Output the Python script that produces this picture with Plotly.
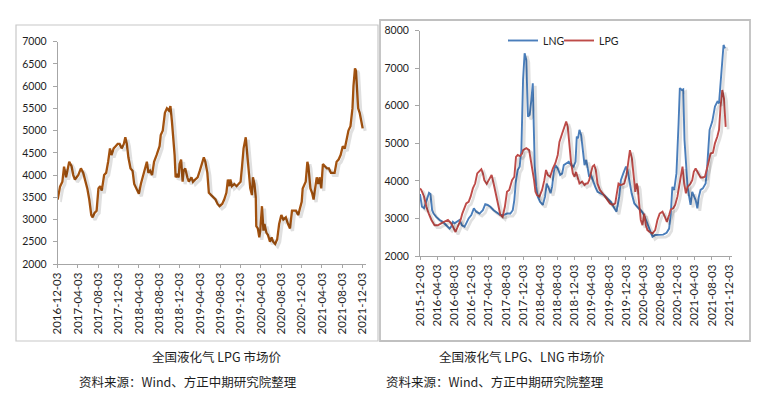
import plotly.graph_objects as go

W, H = 759, 409

# ---------------- data: left chart (全国液化气 LPG 市场价) ----------------
left_dates = [
    "2016-12-03","2016-12-17","2016-12-31","2017-01-10","2017-01-22","2017-02-10","2017-02-24","2017-03-06",
    "2017-03-16","2017-04-05","2017-04-21","2017-05-05","2017-05-15","2017-05-29","2017-06-10","2017-06-22",
    "2017-06-30","2017-07-12","2017-07-24","2017-08-04","2017-08-14","2017-08-24","2017-09-07","2017-09-19",
    "2017-10-01","2017-10-12","2017-10-21","2017-11-03","2017-11-15","2017-11-27","2017-12-09","2017-12-21",
    "2018-01-03","2018-01-12","2018-01-21","2018-01-30","2018-02-12","2018-02-24","2018-03-06","2018-03-21",
    "2018-04-03","2018-04-15","2018-04-27","2018-05-09","2018-05-21","2018-05-30","2018-06-09","2018-06-21",
    "2018-07-03","2018-07-18","2018-08-05","2018-08-12","2018-08-24","2018-09-06","2018-09-18","2018-09-30",
    "2018-10-09","2018-10-18","2018-10-27","2018-11-03","2018-11-09","2018-11-18","2018-11-27","2018-12-03",
    "2018-12-12","2018-12-21","2018-12-27","2019-01-06","2019-01-18","2019-01-27","2019-02-12","2019-02-21",
    "2019-03-06","2019-03-21","2019-04-03","2019-04-15","2019-04-27","2019-05-06","2019-05-18","2019-05-27",
    "2019-06-09","2019-06-21","2019-07-06","2019-07-18","2019-07-30","2019-08-15","2019-08-27","2019-09-09",
    "2019-09-18","2019-09-27","2019-10-03","2019-10-12","2019-10-27","2019-11-09","2019-11-21","2019-12-03",
    "2019-12-12","2019-12-21","2020-01-03","2020-01-12","2020-01-21","2020-01-30","2020-02-09","2020-02-15",
    "2020-02-24","2020-03-03","2020-03-06","2020-03-15","2020-03-24","2020-03-30","2020-04-09","2020-04-18",
    "2020-04-24","2020-05-06","2020-05-15","2020-05-27","2020-06-06","2020-06-15","2020-06-27","2020-07-09",
    "2020-07-21","2020-08-03","2020-08-15","2020-08-30","2020-09-12","2020-09-24","2020-10-06","2020-10-18",
    "2020-10-30","2020-11-12","2020-11-21","2020-12-03","2020-12-09","2020-12-18","2020-12-27","2021-01-06",
    "2021-01-12","2021-01-24","2021-02-03","2021-02-12","2021-02-24","2021-03-03","2021-03-12","2021-03-21",
    "2021-03-30","2021-04-09","2021-04-21","2021-05-03","2021-05-15","2021-05-27","2021-06-06","2021-06-18",
    "2021-06-30","2021-07-12","2021-07-24","2021-08-06","2021-08-18","2021-08-30","2021-09-09","2021-09-21",
    "2021-10-03","2021-10-09","2021-10-18","2021-10-24","2021-10-30","2021-11-06","2021-11-15","2021-11-24",
    "2021-12-03",
]
left_lpg = [
    3450, 3740, 3850, 4190, 3950, 4300, 4200, 4000,
    3900, 4000, 4150, 4050, 3900, 3700, 3450, 3100,
    3050, 3150, 3200, 3700, 3750, 3650, 4000, 4050,
    4300, 4600, 4450, 4600, 4650, 4700, 4700, 4600,
    4700, 4850, 4700, 4400, 4150, 4100, 3800, 3700,
    3580, 3800, 3950, 4100, 4300, 4050, 4100, 4000,
    4300, 4450, 4650, 4900, 5000, 5400, 5500, 5450,
    5550, 5200, 4800, 4450, 3950, 4000, 3950, 4250,
    4350, 3850, 4100, 4150, 3950, 3850, 3950, 3850,
    3900, 3950, 4100, 4250, 4400, 4300, 4050, 3600,
    3550, 3500, 3450, 3350, 3300, 3350, 3450, 3600,
    3900, 3750, 3900, 3750, 3800, 3750, 3800, 3850,
    4200, 4600, 4850, 4500, 4200, 3700, 3550, 3950,
    3800, 3500, 2850, 2800, 2600, 2750, 3300, 2750,
    2900, 2700, 2650, 2500, 2600, 2500, 2450, 2550,
    2900, 3100, 3000, 3050, 2900, 2800, 3200, 3200,
    3200, 3100, 3250, 3400, 3700, 3800, 3850, 4300,
    4200, 3700, 3600, 3450, 3850, 3950, 3800, 3950,
    3700, 4250, 4200, 4150, 4150, 4050, 4050, 4050,
    4300, 4350, 4450, 4650, 4600, 4800, 5000, 5100,
    5500, 6000, 6400, 6350, 5900, 5500, 5400, 5250,
    5050,
]
left_ticks = [
    "2016-12-03","2017-04-03","2017-08-03","2017-12-03","2018-04-03","2018-08-03",
    "2018-12-03","2019-04-03","2019-08-03","2019-12-03","2020-04-03","2020-08-03",
    "2020-12-03","2021-04-03","2021-08-03","2021-12-03",
]

# ---------------- data: right chart (LNG / LPG) ----------------
lng_dates = [
    "2015-12-03","2015-12-17","2016-01-01","2016-01-17","2016-02-05","2016-02-15","2016-02-27","2016-03-08",
    "2016-03-27","2016-04-20","2016-05-13","2016-06-06","2016-06-30","2016-07-11","2016-07-23","2016-08-04",
    "2016-08-23","2016-09-09","2016-09-25","2016-10-14","2016-10-26","2016-11-12","2016-12-01","2016-12-19",
    "2017-01-05","2017-01-28","2017-02-21","2017-03-10","2017-03-27","2017-04-15","2017-05-08","2017-06-01",
    "2017-06-25","2017-07-18","2017-08-11","2017-09-04","2017-09-21","2017-10-02","2017-10-14","2017-10-26",
    "2017-11-09","2017-11-21","2017-12-03","2017-12-14","2017-12-26","2018-01-07","2018-01-19","2018-01-31",
    "2018-02-10","2018-02-17","2018-02-24","2018-03-06","2018-03-17","2018-04-03","2018-04-22","2018-05-08",
    "2018-05-20","2018-06-04","2018-06-16","2018-06-27","2018-07-09","2018-07-20","2018-08-06","2018-08-23",
    "2018-09-07","2018-09-18","2018-10-05","2018-10-23","2018-11-09","2018-11-26","2018-12-10","2018-12-19",
    "2018-12-28","2019-01-07","2019-01-19","2019-01-31","2019-02-12","2019-02-24","2019-03-06","2019-03-17",
    "2019-03-29","2019-04-10","2019-04-29","2019-05-15","2019-06-08","2019-07-02","2019-07-25","2019-08-18",
    "2019-09-11","2019-09-27","2019-10-16","2019-10-28","2019-11-14","2019-12-03","2019-12-14","2019-12-26",
    "2020-01-12","2020-01-31","2020-02-17","2020-03-01","2020-03-17","2020-04-03","2020-04-22","2020-05-10",
    "2020-05-27","2020-06-08","2020-06-27","2020-07-25","2020-08-23","2020-09-16","2020-10-04","2020-10-16",
    "2020-10-27","2020-11-09","2020-11-25","2020-12-10","2020-12-19","2021-01-03","2021-01-12","2021-01-21",
    "2021-01-31","2021-02-12","2021-02-23","2021-03-05","2021-03-17","2021-03-28","2021-04-10","2021-04-22",
    "2021-05-03","2021-05-15","2021-05-31","2021-06-20","2021-07-01","2021-07-18","2021-08-06","2021-08-25",
    "2021-09-11","2021-09-23","2021-10-04","2021-10-16","2021-10-25","2021-11-04",
]
lng_values = [
    3650, 3310, 3270, 3490, 3680, 3650, 3220, 3130,
    3040, 2960, 2910, 2820, 2730, 2780, 2910, 2870,
    2910, 2960, 2820, 2780, 2870, 3000, 3090, 3270,
    3180, 3130, 3220, 3380, 3360, 3310, 3220, 3150,
    3090, 3090, 3130, 3130, 3220, 3490, 4020, 4290,
    4380, 4820, 6690, 7400, 7220, 5710, 5760, 6160,
    6600, 5440, 4380, 3840, 3580, 3440, 3360, 3580,
    3930, 3800, 3670, 3840, 4240, 4420, 4330, 4160,
    4200, 4420, 4470, 4510, 4420, 4380, 4510, 5180,
    5130, 5360, 5220, 4730, 4420, 4560, 4290, 4110,
    4160, 4020, 3840, 3710, 3670, 3620, 3530, 3440,
    3270, 3180, 3580, 4020, 4200, 4380, 4290, 4020,
    3670, 3400, 3310, 3270, 3220, 3130, 2960, 2780,
    2600, 2510, 2560, 2560, 2570, 2620, 2730, 3130,
    3840, 3760, 4200, 5530, 6470, 6420, 6440, 5090,
    4380, 3840, 3580, 3360, 3710, 3580, 3490, 3270,
    3580, 3760, 3800, 3930, 4380, 5360, 5580, 5980,
    6110, 6070, 6600, 7220, 7620, 7530,
]
lpg_dates = [
    "2015-12-03","2015-12-12","2016-01-01","2016-01-17","2016-02-03","2016-02-22","2016-03-15","2016-04-08",
    "2016-05-01","2016-05-25","2016-06-18","2016-07-11","2016-07-30","2016-08-11","2016-08-27","2016-09-16",
    "2016-09-28","2016-10-14","2016-10-26","2016-11-12","2016-11-26","2016-12-12","2016-12-28","2017-01-12",
    "2017-01-28","2017-02-10","2017-02-21","2017-03-03","2017-03-20","2017-04-08","2017-04-24","2017-05-08",
    "2017-05-24","2017-06-11","2017-06-25","2017-07-11","2017-07-27","2017-08-11","2017-08-27","2017-09-16",
    "2017-10-02","2017-10-14","2017-10-26","2017-11-12","2017-11-26","2017-12-03","2017-12-26","2018-01-15",
    "2018-01-26","2018-02-07","2018-02-19","2018-03-01","2018-03-12","2018-03-29","2018-04-17","2018-05-03",
    "2018-05-15","2018-05-27","2018-06-13","2018-07-02","2018-07-20","2018-08-06","2018-08-18","2018-09-07",
    "2018-09-23","2018-10-05","2018-10-16","2018-10-28","2018-11-09","2018-11-21","2018-12-03","2018-12-14",
    "2018-12-26","2019-01-07","2019-01-26","2019-02-12","2019-02-24","2019-03-06","2019-03-17","2019-03-29",
    "2019-04-10","2019-04-22","2019-05-03","2019-05-15","2019-06-01","2019-06-20","2019-07-08","2019-07-25",
    "2019-08-11","2019-08-30","2019-09-18","2019-09-27","2019-10-11","2019-10-28","2019-11-21","2019-12-07",
    "2019-12-21","2019-12-31","2020-01-14","2020-01-24","2020-02-07","2020-02-17","2020-02-24","2020-03-05",
    "2020-03-17","2020-03-29","2020-04-10","2020-04-22","2020-05-03","2020-05-20","2020-06-08","2020-06-27",
    "2020-07-13","2020-07-29","2020-08-18","2020-09-04","2020-09-18","2020-10-04","2020-10-16","2020-11-02",
    "2020-11-16","2020-12-02","2020-12-14","2020-12-26","2021-01-07","2021-01-19","2021-01-31","2021-02-12",
    "2021-02-23","2021-03-05","2021-03-17","2021-03-28","2021-04-10","2021-04-22","2021-05-03","2021-05-15",
    "2021-05-31","2021-06-15","2021-06-27","2021-07-08","2021-07-25","2021-08-11","2021-08-25","2021-09-11",
    "2021-09-23","2021-10-04","2021-10-16","2021-10-28","2021-11-04","2021-11-09",
]
lpg_values = [
    3800, 3760, 3580, 3310, 3130, 2960, 2820, 2820,
    2870, 2910, 2960, 2870, 2730, 2640, 2780, 2960,
    3130, 3310, 3400, 3440, 3580, 3800, 3930, 4200,
    4270, 4310, 4200, 4020, 3920, 4070, 4160, 3930,
    3670, 3400, 3090, 3040, 3310, 3710, 3760, 4020,
    4110, 4640, 4690, 4660, 4730, 4820, 4870, 4820,
    4600, 4290, 4020, 3710, 3620, 3580, 3760, 4020,
    4290, 4160, 4110, 4330, 4470, 4690, 5040, 5270,
    5490, 5580, 5440, 4820, 4470, 4200, 4110, 4240,
    4110, 3930, 3980, 3890, 3930, 3930, 4020, 4200,
    4380, 4420, 4290, 3930, 3760, 3670, 3580, 3490,
    3400, 3360, 3400, 3620, 3930, 3890, 3930, 4160,
    4500, 4820, 4600, 4200, 3710, 3930, 3840, 3400,
    2960, 2820, 3130, 2820, 2690, 2640, 2600, 2690,
    2960, 3130, 3180, 3040, 2910, 3090, 3240, 3270,
    3360, 3580, 3840, 4110, 4380, 3930, 3670, 3840,
    3890, 3930, 4020, 4240, 4330, 4240, 4200, 4090,
    4090, 4110, 4290, 4470, 4730, 4750, 5000, 5180,
    5360, 5980, 6420, 6200, 5530, 5440,
]
right_ticks = [
    "2015-12-03","2016-04-03","2016-08-03","2016-12-03","2017-04-03","2017-08-03","2017-12-03",
    "2018-04-03","2018-08-03","2018-12-03","2019-04-03","2019-08-03","2019-12-03","2020-04-03",
    "2020-08-03","2020-12-03","2021-04-03","2021-08-03","2021-12-03",
]

left_caption = "全国液化气 LPG 市场价"
right_caption = "全国液化气 LPG、LNG 市场价"
source_text = "资料来源：Wind、方正中期研究院整理"

# ---------------- styling ----------------
BROWN = "#A3520F"
BLUE = "#4A7EBB"
RED = "#BE4B48"
SHADOW = "rgba(0,0,0,0.12)"
AXIS = "#A6A6A6"
TXT = "#1E1E1E"
CJK = "Noto Sans CJK SC"
NUM = "Lato"

def px(x):
    return x / W

def py(y):
    return (H - y) / H

L_RANGE_X = ["2016-12-03", "2021-12-23"]
R_RANGE_X = ["2015-12-03", "2021-12-24"]
L_DOM_X = [px(57.7), px(366)]
L_DOM_Y = [py(264), py(41.7)]
R_DOM_X = [px(420), px(732)]
R_DOM_Y = [py(256), py(30.7)]
SH_DX, SH_DY = 2.5, 2.5

fig = go.Figure()

# shadows (drawn first, beneath the lines)
fig.add_trace(go.Scatter(x=left_dates, y=left_lpg, mode="lines", xaxis="x3", yaxis="y3",
                         line=dict(color=SHADOW, width=3.2), showlegend=False, hoverinfo="skip"))
fig.add_trace(go.Scatter(x=lng_dates, y=lng_values, mode="lines", xaxis="x4", yaxis="y4",
                         line=dict(color=SHADOW, width=2.8), showlegend=False, hoverinfo="skip"))
fig.add_trace(go.Scatter(x=lpg_dates, y=lpg_values, mode="lines", xaxis="x4", yaxis="y4",
                         line=dict(color=SHADOW, width=2.8), showlegend=False, hoverinfo="skip"))

# main lines
fig.add_trace(go.Scatter(x=left_dates, y=left_lpg, mode="lines", xaxis="x", yaxis="y",
                         line=dict(color=BROWN, width=2.3), showlegend=False, name="LPG"))
fig.add_trace(go.Scatter(x=lng_dates, y=lng_values, mode="lines", xaxis="x2", yaxis="y2",
                         line=dict(color=BLUE, width=1.9), name="LNG", legend="legend"))
fig.add_trace(go.Scatter(x=lpg_dates, y=lpg_values, mode="lines", xaxis="x2", yaxis="y2",
                         line=dict(color=RED, width=1.9), name="LPG", legend="legend2"))

xcommon = dict(type="date", showgrid=False, zeroline=False, showline=True, linecolor=AXIS, linewidth=1,
               ticks="outside", ticklen=3, tickcolor=AXIS, tickangle=-90, tickmode="array",
               tickfont=dict(family=NUM, size=11.5, color=TXT), automargin=False)
ycommon = dict(showgrid=False, zeroline=False, showline=True, linecolor=AXIS, linewidth=1,
               ticks="outside", ticklen=4, tickcolor=AXIS, ticklabelstandoff=4,
               tickfont=dict(family=NUM, size=10.5, color=TXT), automargin=False)

legend_common = dict(orientation="h", xanchor="left", yanchor="top", y=py(26),
                     font=dict(family=NUM, size=10.5, color=TXT), bgcolor="rgba(0,0,0,0)",
                     itemwidth=30, tracegroupgap=0)

fig.update_layout(
    width=W, height=H, autosize=False,
    margin=dict(l=0, r=0, t=0, b=0, pad=0),
    paper_bgcolor="white", plot_bgcolor="rgba(0,0,0,0)",
    xaxis=dict(xcommon, domain=L_DOM_X, range=L_RANGE_X, tickvals=left_ticks, ticktext=left_ticks,
               anchor="y"),
    yaxis=dict(ycommon, domain=L_DOM_Y, range=[2000, 7000], dtick=500, tick0=2000, anchor="x"),
    xaxis2=dict(xcommon, domain=R_DOM_X, range=R_RANGE_X, tickvals=right_ticks, ticktext=right_ticks,
                anchor="y2"),
    yaxis2=dict(ycommon, domain=R_DOM_Y, range=[2000, 8000], dtick=1000, tick0=2000, anchor="x2"),
    xaxis3=dict(type="date", visible=False, domain=[L_DOM_X[0] + px(SH_DX), L_DOM_X[1] + px(SH_DX)],
                range=L_RANGE_X, anchor="y3"),
    yaxis3=dict(visible=False, domain=[L_DOM_Y[0] - SH_DY / H, L_DOM_Y[1] - SH_DY / H],
                range=[2000, 7000], anchor="x3"),
    xaxis4=dict(type="date", visible=False, domain=[R_DOM_X[0] + px(SH_DX), R_DOM_X[1] + px(SH_DX)],
                range=R_RANGE_X, anchor="y4"),
    yaxis4=dict(visible=False, domain=[R_DOM_Y[0] - SH_DY / H, R_DOM_Y[1] - SH_DY / H],
                range=[2000, 8000], anchor="x4"),
    legend=dict(legend_common, x=px(503)),
    legend2=dict(legend_common, x=px(559)),
    showlegend=True,
)

# panel frames
fig.add_shape(type="rect", xref="paper", yref="paper", x0=px(16), x1=px(378), y0=py(341), y1=py(25),
              line=dict(color="#C8C8C8", width=1.2), layer="below")
fig.add_shape(type="rect", xref="paper", yref="paper", x0=px(380), x1=px(750), y0=py(341), y1=py(20),
              line=dict(color="#C0C0C0", width=1.8), layer="below")

# captions
for txt, cx, cy in [(left_caption, 217, 356), (source_text, 188, 381),
                    (right_caption, 522, 356), (source_text, 495, 381)]:
    fig.add_annotation(text=txt, xref="paper", yref="paper", x=px(cx), y=py(cy),
                       xanchor="center", yanchor="middle", showarrow=False,
                       font=dict(family=CJK, size=12.5, color=TXT))

fig.write_html(
    "out.html",
    config={"responsive": False, "displayModeBar": False},
    post_script="document.body.style.margin='0';document.body.style.overflow='hidden';",
)
